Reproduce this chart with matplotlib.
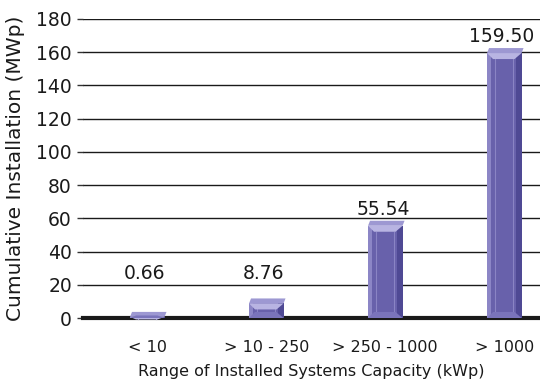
import matplotlib
matplotlib.use('Agg')
import matplotlib.pyplot as plt
from matplotlib.patches import Polygon

# installed PV capacity by system size range
categories = ['< 10', '> 10 - 250', '> 250 - 1000', '> 1000']
capacity = [0.66, 8.76, 55.54, 159.50]
value_labels = ['0.66', '8.76', '55.54', '159.50']
yticks = [0, 20, 40, 60, 80, 100, 120, 140, 160, 180]

plt.rcParams['font.family'] = 'DejaVu Sans'

fig = plt.figure(figsize=(5.4, 3.8), dpi=100)
ax = fig.add_axes([83 / 540, 62 / 380, 457 / 540, 299 / 380])

pos = list(range(len(categories)))
bw = 0.29
bars = ax.bar(pos, capacity, width=bw, color='#6861ab', zorder=3)

ax.set_xlim(-0.54, 3.30)
ax.set_ylim(0, 180)
ax.set_yticks(yticks)
ax.set_xticks(pos)
ax.set_xticklabels(categories, fontsize=11.5, color='#1a1a1a')
ax.tick_params(axis='y', labelsize=13.5, length=4, width=1, color='#333333', pad=4, labelcolor='#1a1a1a')
ax.tick_params(axis='x', length=0, pad=16)
ax.grid(axis='y', color='#1a1a1a', linewidth=1.0, zorder=0)
for s in ['top', 'right', 'left']:
    ax.spines[s].set_visible(False)
ax.spines['bottom'].set_linewidth(3)
ax.spines['bottom'].set_color('#1a1a1a')
ax.spines['bottom'].set_zorder(5)

ax.set_ylabel('Cumulative Installation (MWp)', fontsize=14.5, labelpad=8, color='#1a1a1a')
ax.set_xlabel('Range of Installed Systems Capacity (kWp)', fontsize=11.5, labelpad=6, color='#1a1a1a')

# value labels sit above the bars, small bars get a minimum height
for x, v, t in zip(pos, capacity, value_labels):
    ax.text(x - 0.02, max(v, 17) + 10, t, ha='center', va='center', fontsize=13.5, color='#1a1a1a', zorder=6)

# bevel / 3d look, drawn in pixel space around each bar
fig.canvas.draw()
for b in bars:
    (x0, y0), (x1, y1) = ax.transData.transform([(b.get_x(), 0), (b.get_x() + bw, b.get_height())])
    d = 5  # cap depth in pixels
    bev = min(6, (y1 - y0) / 2 + 2)
    parts = [
        # top cap
        ([(x0, y1), (x1, y1), (x1 + 2, y1 + d), (x0 + 2, y1 + d)], '#9d98d2'),
        # right side
        ([(x1 - 6, y0), (x1, y0), (x1, y1), (x1 - 6, y1)], '#4f4994'),
        # left light strip
        ([(x0, y0), (x0 + 4, y0), (x0 + 4, y1), (x0, y1)], '#8c86c6'),
        # top inner bevel
        ([(x0, y1), (x1, y1), (x1 - 7, y1 - bev), (x0 + 6, y1 - bev)], '#b8b4e2'),
        # bottom inner bevel
        ([(x0, y0), (x1, y0), (x1 - 7, y0 + bev), (x0 + 6, y0 + bev)], '#7a74bb'),
    ]
    for pts, c in parts:
        fig.patches.append(Polygon(pts, closed=True, facecolor=c, edgecolor='none',
                                   transform=None, figure=fig, zorder=4))
    # thin highlight lines on the face
    for xx, c in [(x0 + 8, '#8a84c4'), (x1 - 9, '#8a84c4')]:
        fig.lines.append(matplotlib.lines.Line2D([xx, xx], [y0 + bev, y1 - bev], color=c,
                                                 linewidth=0.8, transform=None, figure=fig))

fig.savefig('out.png', dpi=100)
